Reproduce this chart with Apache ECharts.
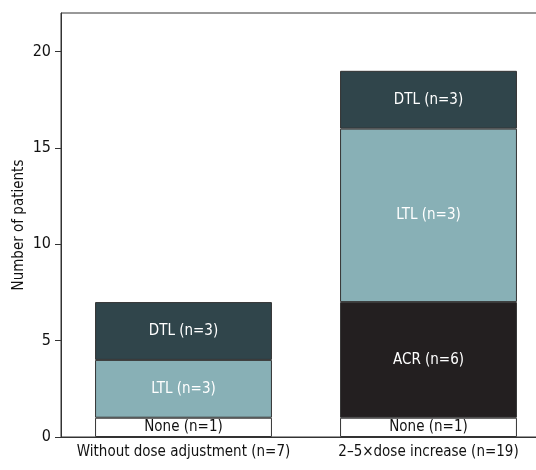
<!DOCTYPE html>
<html><head><meta charset="utf-8">
<script src="https://cdn.jsdelivr.net/npm/echarts@6/dist/echarts.min.js"></script>
<style>html,body{margin:0;padding:0;background:#fff}#c{width:536px;height:470px}</style>
</head><body><div id="c"></div>
<script>
const categories = ['Without dose adjustment (n=7)', '2\u20135\u00d7dose increase (n=19)'];
const noneVals = [1, 1];
const acrVals = ['-', 6];
const ltlVals = [3, 9];
const dtlVals = [3, 3];
const noneLabels = ['None (n=1)', 'None (n=1)'];
const acrLabels = ['', 'ACR (n=6)'];
const ltlLabels = ['LTL (n=3)', 'LTL (n=3)'];
const dtlLabels = ['DTL (n=3)', 'DTL (n=3)'];
const yTicks = [0, 5, 10, 15, 20];

const FONT = '"Liberation Sans Narrow", "DejaVu Sans Condensed", sans-serif';
function mk(name, vals, labels, color, textColor) {
  return {
    name: name, type: 'bar', stack: 'a', data: vals, barWidth: '72.2%',
    itemStyle: { color: color, borderColor: '#333', borderWidth: 1 },
    label: { show: true, position: 'inside', color: textColor, fontFamily: FONT, fontSize: 15,
      formatter: p => labels[p.dataIndex] },
    emphasis: { disabled: true }
  };
}
const chart = echarts.init(document.getElementById('c'), null, { renderer: 'canvas' });
chart.setOption({
  animation: false,
  grid: { left: 61, top: 13, right: -15, bottom: 33, outerBoundsMode: 'none', containLabel: false,
    show: true, borderColor: '#333', borderWidth: 1, backgroundColor: 'transparent' },
  xAxis: {
    type: 'category', data: categories,
    axisLine: { lineStyle: { color: '#333', width: 1 } },
    axisTick: { alignWithLabel: true, length: 6, lineStyle: { color: '#333' } },
    axisLabel: { color: '#111', fontFamily: FONT, fontSize: 15, margin: 8, interval: 0 }
  },
  yAxis: {
    type: 'value', min: 0, max: 22, interval: 5,
    name: 'Number of patients', nameLocation: 'middle', nameGap: 34, nameMoveOverlap: false,
    nameTextStyle: { color: '#111', fontFamily: FONT, fontSize: 15 },
    splitLine: { show: false },
    axisLine: { show: true, lineStyle: { color: '#333', width: 1 } },
    axisTick: { show: true, inside: false, length: 6, lineStyle: { color: '#333' } },
    axisLabel: { color: '#111', fontFamily: FONT, fontSize: 16, margin: 10, showMaxLabel: false,
      formatter: v => yTicks.includes(v) ? String(v) : '' }
  },
  series: [
    mk('None', noneVals, noneLabels, '#ffffff', '#111'),
    mk('ACR', acrVals, acrLabels, '#231f20', '#fff'),
    mk('LTL', ltlVals, ltlLabels, '#88b0b6', '#fff'),
    mk('DTL', dtlVals, dtlLabels, '#30454b', '#fff')
  ]
});
</script></body></html>
